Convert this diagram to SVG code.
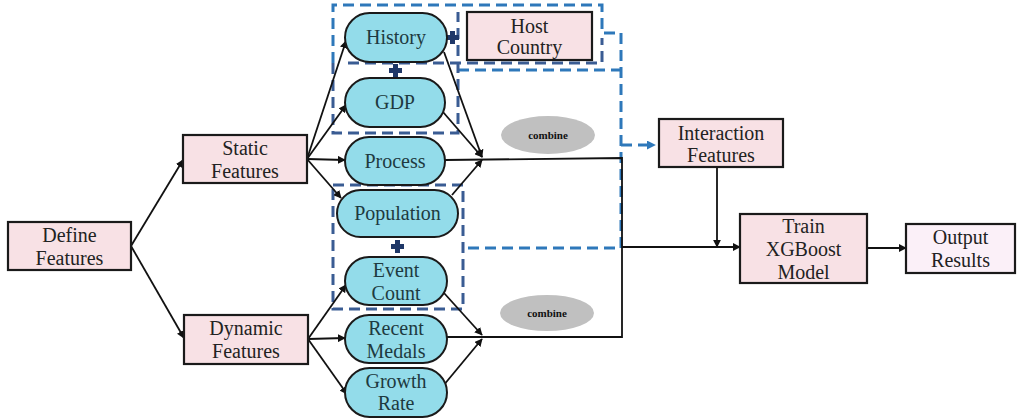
<svg xmlns="http://www.w3.org/2000/svg" width="1017" height="420" viewBox="0 0 1017 420">
<style>
.box{fill:#F8E1E5;stroke:#1a1a1a;stroke-width:2.2}
.out{fill:#FBF0F8;stroke:#1a1a1a;stroke-width:2.2}
.pill{fill:#93DCEA;stroke:#1a1a1a;stroke-width:2}
.t{font-size:20px;fill:#222;text-anchor:middle}
.pt{font-size:20px;fill:#1E3A40;text-anchor:middle}
.cb{font-size:11px;font-weight:bold;fill:#111;text-anchor:middle}
.ln{fill:none;stroke:#111;stroke-width:1.8}
.dd{fill:none;stroke:#3A5C93;stroke-width:3;stroke-dasharray:11 6}
.ld{fill:none;stroke:#2E78BA;stroke-width:3;stroke-dasharray:11 6}
.plus{fill:#1F3868}
.ell{fill:#C0C0C0}
</style>
<defs>
<marker id="ah" viewBox="0 0 10 10" refX="9" refY="5" markerWidth="8" markerHeight="8" markerUnits="userSpaceOnUse" orient="auto">
<path d="M0,0 L10,5 L0,10 z" fill="#111"/>
</marker>
<marker id="ahb" viewBox="0 0 10 10" refX="9" refY="5" markerWidth="9" markerHeight="9" markerUnits="userSpaceOnUse" orient="auto">
<path d="M0,0 L10,5 L0,10 z" fill="#2E78BA"/>
</marker>
</defs>

<g id="dashed-groups">
<path class="ld" d="M333,63 V5 H602 V33 H621 V248 H463"/>
<path class="ld" d="M458,70 H621"/>
<path class="ld" d="M621,145 H655" marker-end="url(#ahb)"/>
<path class="dd" d="M333,63 V133 H458 V12"/>
<path class="dd" d="M348,63 H602 V38"/>
<rect class="dd" x="333" y="185" width="130" height="124"/>
</g>

<g id="connectors">
<path class="ln" d="M131,246 L183,160" marker-end="url(#ah)"/>
<path class="ln" d="M131,246 L184,338" marker-end="url(#ah)"/>
<path class="ln" d="M307,159 L346,41" marker-end="url(#ah)"/>
<path class="ln" d="M307,159 L346,105" marker-end="url(#ah)"/>
<path class="ln" d="M307,159 L345,160" marker-end="url(#ah)"/>
<path class="ln" d="M307,159 L341,198" marker-end="url(#ah)"/>
<path class="ln" d="M308,339 L346,285" marker-end="url(#ah)"/>
<path class="ln" d="M308,339 L345,338" marker-end="url(#ah)"/>
<path class="ln" d="M308,339 L347,394" marker-end="url(#ah)"/>
<path class="ln" d="M444,52 L482,157" marker-end="url(#ah)"/>
<path class="ln" d="M443,112 L482,157" marker-end="url(#ah)"/>
<path class="ln" d="M452,195 L482,160" marker-end="url(#ah)"/>
<path class="ln" d="M445,160 L622,158 V337 H447"/>
<path class="ln" d="M444,293 L482,335" marker-end="url(#ah)"/>
<path class="ln" d="M443,386 L482,339" marker-end="url(#ah)"/>
<path class="ln" d="M622,247 H740" marker-end="url(#ah)"/>
<path class="ln" d="M717,167 V247" marker-end="url(#ah)"/>
<path class="ln" d="M867,248 H906" marker-end="url(#ah)"/>
</g>

<g id="plus-signs">
<path class="plus" d="M450,31 h5 v4 h4 v5 h-4 v4 h-5 v-4 h-4 v-5 h4 z"/>
<path class="plus" d="M393,64 h5 v4 h4 v5 h-4 v4 h-5 v-4 h-4 v-5 h4 z"/>
<path class="plus" d="M395,240 h5 v4 h4 v5 h-4 v4 h-5 v-4 h-4 v-5 h4 z"/>
</g>

<g font-family="'Liberation Serif', 'DejaVu Serif', serif">
<g id="define-features"><rect class="box" x="8" y="222" width="123" height="48"/><text class="t" x="69.5" y="242">Define</text><text class="t" x="69.5" y="265">Features</text></g>
<g id="static-features"><rect class="box" x="183" y="135" width="124" height="48"/><text class="t" x="245" y="155">Static</text><text class="t" x="245" y="178">Features</text></g>
<g id="dynamic-features"><rect class="box" x="184" y="315" width="124" height="49"/><text class="t" x="246" y="335">Dynamic</text><text class="t" x="246" y="358">Features</text></g>
<g id="host-country"><rect class="box" x="467" y="12" width="125" height="48"/><text class="t" x="529.5" y="33">Host</text><text class="t" x="529.5" y="54">Country</text></g>
<g id="interaction-features"><rect class="box" x="659" y="119" width="124" height="48"/><text class="t" x="721" y="140">Interaction</text><text class="t" x="721" y="162">Features</text></g>
<g id="train-model"><rect class="box" x="740" y="214" width="127" height="69"/><text class="t" x="803.5" y="233">Train</text><text class="t" x="803.5" y="256">XGBoost</text><text class="t" x="803.5" y="279">Model</text></g>
<g id="output-results"><rect class="out" x="906" y="224" width="109" height="49"/><text class="t" x="960.5" y="244">Output</text><text class="t" x="960.5" y="267">Results</text></g>

<g id="history"><rect class="pill" x="345" y="13" width="102" height="49" rx="24.5"/><text class="pt" x="396" y="44">History</text></g>
<g id="gdp"><rect class="pill" x="345" y="78" width="100" height="49" rx="24.5"/><text class="pt" x="395" y="109">GDP</text></g>
<g id="process"><rect class="pill" x="345" y="137" width="100" height="48" rx="24"/><text class="pt" x="395" y="168">Process</text></g>
<g id="population"><rect class="pill" x="337" y="190" width="121" height="47" rx="23.5"/><text class="pt" x="397.5" y="220">Population</text></g>
<g id="event-count"><rect class="pill" x="345" y="257" width="102" height="48" rx="24"/><text class="pt" x="396" y="277">Event</text><text class="pt" x="396" y="300">Count</text></g>
<g id="recent-medals"><rect class="pill" x="345" y="315" width="102" height="48" rx="24"/><text class="pt" x="396" y="335">Recent</text><text class="pt" x="396" y="358">Medals</text></g>
<g id="growth-rate"><rect class="pill" x="345" y="368" width="102" height="49" rx="24.5"/><text class="pt" x="396" y="388">Growth</text><text class="pt" x="396" y="410">Rate</text></g>

<g id="combine-top"><ellipse class="ell" cx="548" cy="135" rx="47" ry="19"/><text class="cb" x="548" y="139">combine</text></g>
<g id="combine-bottom"><ellipse class="ell" cx="547" cy="313" rx="47" ry="18"/><text class="cb" x="547" y="317">combine</text></g>
</g>
</svg>
